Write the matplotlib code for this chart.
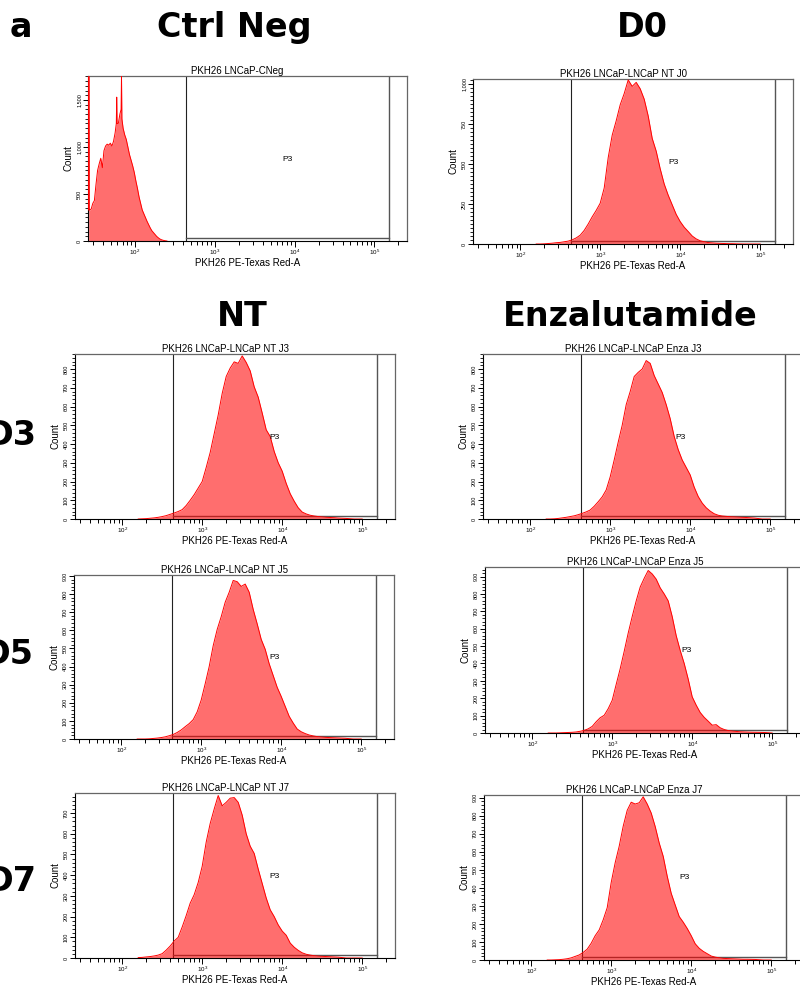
import numpy as np
import matplotlib
matplotlib.use('Agg')
import matplotlib.pyplot as plt
from matplotlib.ticker import MultipleLocator, LogLocator, FuncFormatter, LogFormatterMathtext, NullFormatter

plt.rcParams['font.family'] = ['Liberation Sans', 'DejaVu Sans']

# log10 of PE-Texas Red intensity at the bin centres (shared by the gated samples)
GRID = [2.20, 2.25, 2.30, 2.35, 2.40, 2.45, 2.50, 2.55, 2.60, 2.65,
        2.70, 2.75, 2.80, 2.85, 2.90, 2.95, 3.00, 3.05, 3.10, 3.15,
        3.20, 3.25, 3.30, 3.35, 3.40, 3.45, 3.50, 3.55, 3.60, 3.65,
        3.70, 3.75, 3.80, 3.85, 3.90, 3.95, 4.00, 4.05, 4.10, 4.15,
        4.20, 4.25, 4.30, 4.35, 4.40, 4.45, 4.50, 4.55, 4.60, 4.65,
        4.70, 4.80, 4.90, 5.00]

nt_j0 = [0, 0, 1, 3, 5, 8, 10, 14, 18, 26,
         38, 55, 85, 125, 170, 210, 255, 350, 540, 680,
         770, 870, 940, 1025, 985, 1010, 970, 905, 800, 660,
         580, 470, 375, 305, 245, 185, 140, 105, 78, 50,
         32, 20, 14, 9, 7, 5, 4, 3, 2, 2,
         1, 0, 0, 0]
nt_j3 = [0, 1, 2, 4, 6, 9, 13, 18, 25, 32,
         40, 50, 72, 100, 130, 165, 200, 275, 355, 455,
         555, 670, 760, 805, 838, 830, 870, 835, 790, 705,
         650, 565, 476, 440, 360, 300, 255, 190, 135, 95,
         60, 37, 27, 20, 16, 13, 11, 9, 8, 7,
         5, 3, 0, 0]
enza_j3 = [0, 0, 1, 3, 6, 9, 13, 17, 23, 30,
           38, 48, 68, 92, 118, 155, 225, 315, 410, 500,
           610, 680, 760, 782, 800, 845, 830, 765, 720, 675,
           610, 535, 440, 370, 315, 275, 235, 170, 120, 85,
           60, 42, 28, 20, 16, 14, 12, 11, 10, 9,
           8, 5, 0, 0]
nt_j5 = [0, 0, 0, 1, 3, 5, 8, 12, 18, 25,
         36, 50, 68, 85, 107, 150, 215, 305, 400, 515,
         605, 675, 755, 810, 875, 868, 842, 855, 810, 715,
         635, 550, 495, 415, 350, 285, 235, 180, 125, 88,
         55, 40, 30, 22, 17, 13, 11, 9, 8, 7,
         6, 4, 0, 0]
enza_j5 = [0, 0, 0, 1, 2, 3, 4, 6, 10, 15,
           24, 38, 65, 88, 102, 140, 188, 280, 370, 470,
           575, 670, 760, 840, 890, 935, 915, 885, 835, 800,
           760, 670, 560, 475, 400, 310, 208, 160, 118, 90,
           68, 45, 48, 30, 20, 14, 11, 9, 7, 6,
           5, 4, 3, 0]
nt_j7 = [2, 3, 5, 7, 10, 14, 21, 38, 58, 82,
         100, 150, 205, 265, 306, 365, 443, 560, 650, 720,
         785, 735, 752, 772, 775, 752, 690, 600, 540, 505,
         430, 360, 290, 233, 200, 160, 130, 110, 72, 52,
         37, 25, 18, 14, 11, 9, 8, 7, 6, 5,
         4, 0, 0, 0]
enza_j7 = [0, 0, 1, 2, 4, 7, 12, 20, 28, 42,
           60, 93, 135, 167, 223, 290, 430, 540, 631, 742,
           830, 875, 865, 872, 905, 865, 815, 740, 649, 575,
           465, 370, 305, 241, 210, 175, 135, 90, 65, 48,
           35, 22, 16, 12, 9, 8, 7, 6, 5, 4,
           4, 3, 0, 0]

# unstained control sits at the low end of the scale
cneg_x = [1.418, 1.421, 1.425, 1.433, 1.45, 1.47, 1.49, 1.51, 1.53, 1.55,
          1.57, 1.59, 1.61, 1.63, 1.65, 1.67, 1.69, 1.71, 1.73, 1.75,
          1.765, 1.77, 1.775, 1.79, 1.81, 1.825, 1.83, 1.835, 1.85, 1.87,
          1.89, 1.91, 1.93, 1.95, 1.97, 1.99, 2.01, 2.03, 2.05, 2.07,
          2.09, 2.11, 2.13, 2.15, 2.17, 2.19, 2.21, 2.23, 2.25, 2.27,
          2.29, 2.31, 2.33, 2.35, 2.37, 2.40]
cneg_y = [330, 1750, 330, 330, 340, 400, 430, 600, 750, 820,
          880, 780, 960, 1010, 1030, 1020, 1040, 1010, 1060, 1150,
          1250, 1530, 1250, 1250, 1350, 1400, 1750, 1300, 1200, 1130,
          1080, 1000, 920, 860, 800, 730, 640, 560, 470, 400,
          330, 290, 250, 210, 175, 140, 110, 90, 70, 50,
          35, 22, 14, 8, 4, 0]

GATE_LO = 430
GATE_HI = 155000
XMIN, XMAX = 10 ** 1.41, 10 ** 5.41

fig = plt.figure(figsize=(8, 9.9), dpi=100)


def px_rect(l, t, r, b):
    return [l / 800, 1 - b / 990, (r - l) / 800, (b - t) / 990]


def draw_panel(rect, title, xs, counts, ymax, ymajor, yminor, p3):
    ax = fig.add_axes(rect)
    x = 10 ** np.asarray(xs, dtype=float)
    y = np.asarray(counts, dtype=float)

    # P3 gate
    ax.axvline(GATE_LO, color='#222222', lw=0.8, zorder=1)
    ax.axvline(GATE_HI, color='#555555', lw=1.0, zorder=1)
    gy = 0.018 * ymax
    ax.plot([GATE_LO, GATE_HI], [gy, gy], color='#555555', lw=1.0, zorder=1)

    ax.fill_between(x, y, color='red', alpha=0.57, lw=0, zorder=2)
    ax.plot(x, y, color='red', lw=0.7, zorder=3)
    ax.text(p3[0], p3[1], 'P3', fontsize=6, ha='center', va='center', zorder=4)

    ax.set_xscale('log')
    ax.set_xlim(XMIN, XMAX)
    ax.set_ylim(0, ymax)
    ax.xaxis.set_major_locator(LogLocator(base=10, numticks=10))
    ax.xaxis.set_minor_locator(LogLocator(base=10, subs=range(2, 10), numticks=20))
    ax.xaxis.set_major_formatter(LogFormatterMathtext())
    ax.xaxis.set_minor_formatter(NullFormatter())
    ax.yaxis.set_major_locator(MultipleLocator(ymajor))
    ax.yaxis.set_minor_locator(MultipleLocator(yminor))
    ax.yaxis.set_major_formatter(FuncFormatter(lambda v, p: f'{int(v):,}'))

    ax.tick_params(axis='x', which='major', length=4, width=0.7, labelsize=4.5, pad=1)
    ax.tick_params(axis='x', which='minor', length=3, width=0.7)
    ax.tick_params(axis='y', which='major', length=3.5, width=0.7, labelsize=4,
                   pad=1, labelrotation=90)
    ax.tick_params(axis='y', which='minor', length=2, width=0.6)
    for lab in ax.get_yticklabels():
        lab.set_va('center')

    for side in ('left', 'bottom'):
        ax.spines[side].set_color('black')
        ax.spines[side].set_linewidth(0.8)
    for side in ('top', 'right'):
        ax.spines[side].set_color('#666666')
        ax.spines[side].set_linewidth(0.9)

    ax.set_xlabel('PKH26 PE-Texas Red-A', fontsize=7, labelpad=0.5)
    ax.set_ylabel('Count', fontsize=7, labelpad=2)
    ax.text(0.469, 1.012, title, transform=ax.transAxes, ha='center',
            va='baseline', fontsize=7)
    return ax


draw_panel(px_rect(88, 76, 407, 241), 'PKH26 LNCaP-CNeg', cneg_x, cneg_y,
           1755, 500, 50, (10 ** 3.91, 870))
draw_panel(px_rect(473, 79, 793, 244), 'PKH26 LNCaP-LNCaP NT J0', GRID, nt_j0,
           1031, 250, 25, (10 ** 3.91, 512))
draw_panel(px_rect(75, 354, 395, 519), 'PKH26 LNCaP-LNCaP NT J3', GRID, nt_j3,
           880, 100, 20, (10 ** 3.91, 437))
draw_panel(px_rect(483, 354, 803, 519), 'PKH26 LNCaP-LNCaP Enza J3', GRID, enza_j3,
           880, 100, 20, (10 ** 3.875, 437))
draw_panel(px_rect(74, 575, 394, 739), 'PKH26 LNCaP-LNCaP NT J5', GRID, nt_j5,
           905, 100, 20, (10 ** 3.91, 452))
draw_panel(px_rect(485, 567, 805, 733), 'PKH26 LNCaP-LNCaP Enza J5', GRID, enza_j5,
           955, 100, 20, (10 ** 3.925, 477))
draw_panel(px_rect(75, 793, 395, 958), 'PKH26 LNCaP-LNCaP NT J7', GRID, nt_j7,
           797, 100, 20, (10 ** 3.91, 396))
draw_panel(px_rect(484, 795, 804, 960), 'PKH26 LNCaP-LNCaP Enza J7', GRID, enza_j7,
           915, 100, 20, (10 ** 3.91, 455))

# panel letter, column and row headings
head = dict(fontsize=24, fontweight='bold', family='DejaVu Sans', va='baseline')
fig.text(21 / 800, 1 - 37 / 990, 'a', ha='center', **head)
fig.text(234 / 800, 1 - 37 / 990, 'Ctrl Neg', ha='center', **head)
fig.text(642 / 800, 1 - 37 / 990, 'D0', ha='center', **head)
fig.text(242 / 800, 1 - 326 / 990, 'NT', ha='center', **head)
fig.text(630 / 800, 1 - 326 / 990, 'Enzalutamide', ha='center', **head)
# row labels run off the left edge, as in the source figure
fig.text(37 / 800, 1 - 445 / 990, 'D3', ha='right', **head)
fig.text(34 / 800, 1 - 664 / 990, 'D5', ha='right', **head)
fig.text(37 / 800, 1 - 891 / 990, 'D7', ha='right', **head)

fig.savefig('out.png', dpi=100)
